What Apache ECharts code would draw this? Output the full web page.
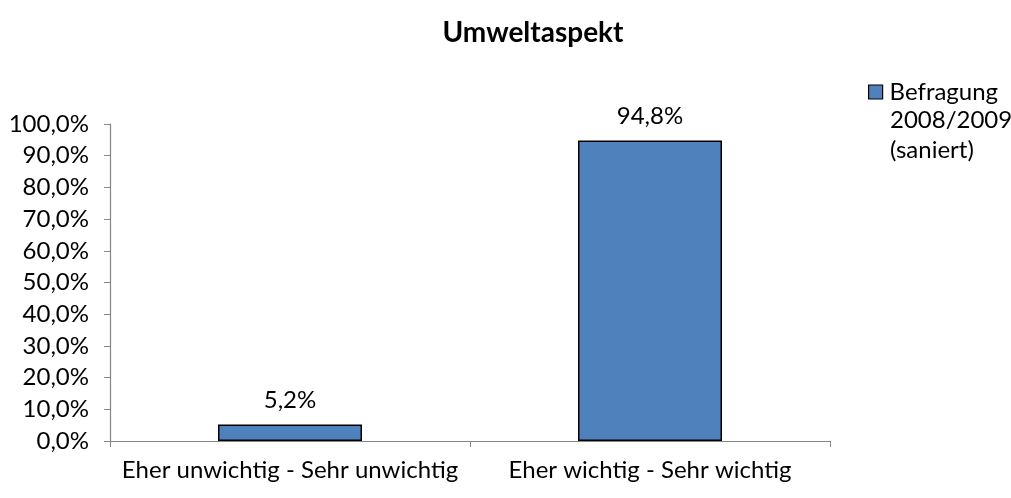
<!DOCTYPE html>
<html>
<head>
<meta charset="utf-8">
<script src="https://cdn.jsdelivr.net/npm/echarts@6/dist/echarts.min.js"></script>
<style>
  html, body { margin: 0; padding: 0; background: #fff; }
  #chart { width: 1011px; height: 498px; }
</style>
</head>
<body>
<div id="chart"></div>
<script>
// Umweltaspekt – Anteil der Antworten
const categories = ['Eher unwichtig - Sehr unwichtig', 'Eher wichtig - Sehr wichtig'];
const seriesName = 'Befragung 2008/2009 (saniert)';
const values = [5.2, 94.8];
const yTicks = [0, 10, 20, 30, 40, 50, 60, 70, 80, 90, 100];

const FONT = 'Lato, "Open Sans", sans-serif';
const FS = 24;
const fmt = v => v.toFixed(1).replace('.', ',') + '%';

const chart = echarts.init(document.getElementById('chart'));
chart.setOption({
  animation: false,
  textStyle: { fontFamily: FONT, color: '#000' },
  title: {
    text: 'Umweltaspekt',
    left: 528, top: 14, textAlign: 'center',
    textStyle: { fontFamily: FONT, fontSize: 28, fontWeight: 'bold', color: '#000' }
  },
  legend: {
    orient: 'vertical',
    left: 863, top: 75,
    itemWidth: 14, itemHeight: 14, itemGap: 4,
    icon: 'rect',
    formatter: () => 'Befragung',
    textStyle: { fontFamily: FONT, fontSize: FS, color: '#000', padding: [0, 0, 0, 2] },
    data: [{ name: seriesName, itemStyle: { borderColor: '#000', borderWidth: 1.2 } }]
  },
  graphic: [{
    type: 'text',
    left: 890, top: 105,
    style: { text: '2008/2009\n(saniert)', font: FS + 'px ' + FONT, lineHeight: 30, fill: '#000' }
  }],
  grid: { left: 110, right: 181, top: 124, bottom: 57 },
  xAxis: {
    type: 'category',
    data: categories,
    axisLine: { lineStyle: { color: '#868686', width: 1.2 } },
    axisTick: { show: true, length: 6, lineStyle: { color: '#868686' } },
    axisLabel: { interval: 0, margin: 17, fontFamily: FONT, fontSize: FS, color: '#000' }
  },
  yAxis: {
    type: 'value',
    min: yTicks[0], max: yTicks[yTicks.length - 1], interval: 10,
    axisLine: { show: true, lineStyle: { color: '#868686', width: 1.2 } },
    axisTick: { show: true, length: 6, lineStyle: { color: '#868686' } },
    splitLine: { show: false },
    axisLabel: { margin: 21, fontFamily: FONT, fontSize: FS, color: '#000', formatter: v => fmt(v) }
  },
  series: [{
    name: seriesName,
    type: 'bar',
    data: values,
    barWidth: '40%',
    itemStyle: { color: '#4F81BD', borderColor: '#000', borderWidth: 1.5 },
    label: {
      show: true, position: 'top', distance: 12,
      fontFamily: FONT, fontSize: FS, color: '#000',
      formatter: p => fmt(p.value)
    }
  }]
});
</script>
</body>
</html>
